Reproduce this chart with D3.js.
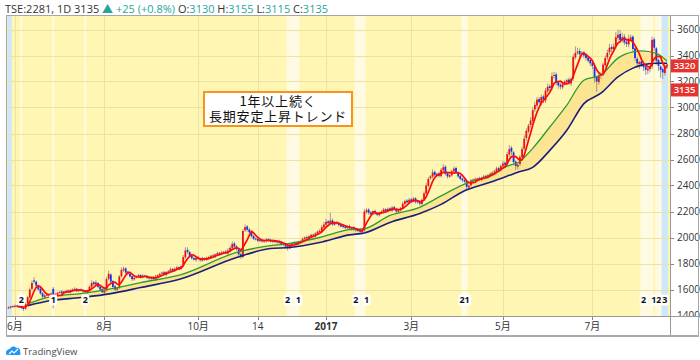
<!DOCTYPE html>
<html><head><meta charset="utf-8">
<script src="https://cdn.jsdelivr.net/npm/d3@7/dist/d3.min.js"></script>
<style>
body{margin:0;background:#fff;}
svg{display:block;font-family:"Open Sans","Noto Sans","Noto Sans CJK JP",sans-serif;}
</style>
</head><body>
<svg id="chart" width="700" height="360"></svg>
<script>
// ---- data ----
const closes=[
1462,1470,1468,1475,1472,1466,1458,1450,
1490,1540,1600,1650,
1660,
1630,1600,1570,1545,
1555,1560,1565,1570,
1480,
1565,1575,1580,1570,1585,1590,1580,1595,1600,1605,1590,1595,1590,
1585,1580,1590,
1620,1650,1640,1655,
1620,1600,1580,1590,
1680,1720,
1660,1620,1600,1610,
1700,1750,1760,
1730,1720,1700,1680,1690,
1700,1710,1695,1705,1700,1690,
1685,1690,1680,1700,1710,
1720,1730,1715,1735,1740,1755,
1745,1760,1770,1765,1780,
1850,1900,1890,
1860,1840,1830,1845,1835,1825,1840,1830,
1845,1850,1860,1855,1870,1880,1875,1885,1890,1880,1900,
1920,1950,1930,1910,
1870,1850,
2050,2080,2060,2040,2010,
1990,1985,1975,1980,1970,1975,1985,1980,1970,1975,1965,1970,1960,
1950,1945,1930,1920,
1945,1955,1960,1950,1965,1970,
1990,2000,1995,2010,2020,2015,2030,2045,2050,
2080,2100,2120,2110,2130,2100,2115,
2110,2095,2085,2080,2075,2085,2070,2075,2060,2055,2050,2045,2050,
2200,
2210,2190,2180,2200,2185,2175,
2190,2200,2215,2205,2220,2210,2230,2220,2200,2210,2225,
2260,2280,2270,2290,2280,2300,2275,
2270,2260,2290,
2340,2400,2450,2470,2500,
2480,2490,2475,2520,
2540,
2490,2470,2480,
2510,2530,2500,
2470,2450,2440,2430,
2390,2400,
2440,2445,2450,2455,2445,2460,2470,2465,2480,
2490,2500,2510,2530,2520,2550,2570,
2560,
2640,2680,2660,
2580,2550,2560,
2620,2680,2760,
2820,2860,2900,2980,
3020,3060,3040,3080,3060,
3130,3160,3150,
3240,3250,
3190,3170,3160,3180,
3200,3210,3190,3220,
3390,3420,
3430,3410,3420,3400,
3380,3360,3340,3320,
3230,3200,
3250,3260,
3330,3380,3420,
3460,3450,3470,3540,
3560,3520,3540,3500,
3490,3530,3540,
3450,3380,
3340,3350,3330,3310,
3290,3300,3310,
3520,3460,
3360,3320,
3290,3270,
3320,3330];

const opens=[
1455,1460,1472,1466,1476,1470,1466,1460,
1452,1495,1538,1605,
1670,
1660,1632,1605,1572,
1540,1560,1555,1568,
1605,
1500,1560,1578,1585,1572,1584,1592,1578,1594,1598,1606,1588,1598,
1592,1588,1578,
1592,1618,1655,1638,
1650,1622,1604,1575,
1592,1682,
1715,1665,1625,1598,
1612,1702,1748,
1762,1735,1722,1702,1678,
1692,1698,1712,1692,1706,1702,
1692,1682,1694,1678,1698,
1708,1722,1732,1712,1738,1738,
1758,1742,1758,1772,1762,
1782,1848,1905,
1888,1862,1842,1828,1848,1836,1822,1842,
1828,1846,1848,1862,1852,1868,1882,1872,1884,1892,1878,
1898,1918,1955,1932,
1908,1872,
1850,2055,2085,2062,2042,
2012,1992,1988,1972,1982,1968,1972,1988,1982,1968,1978,1962,1972,
1962,1952,1948,1932,
1918,1942,1952,1962,1948,1962,
1972,1988,2002,1992,2008,2022,2012,2028,2048,
2052,2078,2098,2124,2108,2132,2098,
2118,2112,2098,2088,2082,2072,2088,2068,2078,2062,2058,2052,2042,
2055,
2195,2215,2192,2178,2204,2188,
2172,2188,2198,2218,2202,2224,2208,2234,2222,2198,2208,
2228,2258,2284,2268,2294,2278,2302,
2278,2272,2258,
2292,2338,2398,2455,2468,
2505,2478,2494,2472,
2518,
2545,2494,2468,
2478,2508,2535,
2502,2474,2454,2442,
2432,2385,
2402,2438,2448,2446,2458,2442,2458,2474,2462,
2478,2488,2502,2508,2534,2518,2548,
2575,
2562,2638,2690,
2655,2585,2545,
2565,2618,2682,
2765,2815,2865,2895,
2985,3015,3065,3035,3085,
3055,3125,3165,
3150,3245,
3255,3195,3175,3155,
3185,3195,3215,3185,
3225,3385,
3425,3435,3405,3425,
3405,3385,3365,3345,
3315,3235,
3195,3245,
3265,3325,3385,
3425,3465,3445,3475,
3535,3565,3515,3545,
3505,3485,3525,
3545,3455,
3375,3335,3355,3325,
3315,3285,3295,
3315,3525,
3455,3365,
3315,3295,
3265,3315];

const upperWicks=[
8,5,6,10,4,6,5,8,
10,12,15,20,
24,
10,8,12,6,
8,10,6,8,
15,
10,6,8,12,5,8,10,6,8,12,6,8,10,
6,8,10,
12,20,10,15,
8,10,6,12,
15,25,
10,8,12,6,
12,20,15,
10,8,12,6,10,
8,10,6,12,8,10,
6,8,10,12,8,
10,8,12,6,10,15,
8,10,12,6,10,
15,25,20,
10,8,12,6,10,8,12,6,
8,10,6,12,8,10,6,12,8,15,20,
15,20,12,10,
8,12,
15,20,10,12,8,
8,10,6,12,8,10,12,6,8,10,6,8,10,
8,10,6,8,
10,8,12,6,10,8,
10,8,12,6,10,8,12,10,15,
15,20,25,10,60,15,10,
10,8,12,6,10,8,12,6,8,10,6,8,10,
20,
15,10,12,8,10,6,
8,10,12,6,10,8,12,10,6,8,10,
15,10,12,15,10,12,8,
10,8,12,
15,20,15,10,25,
10,8,12,15,
25,
10,8,12,
10,15,10,
8,10,6,8,
10,8,
10,8,12,6,10,8,12,10,8,
10,8,12,15,10,12,20,
10,
20,30,15,
10,8,12,
15,20,25,
20,15,25,20,
25,20,15,20,15,
20,25,15,
30,25,
15,10,12,15,
10,12,15,10,
20,50,
30,20,15,10,
12,10,15,10,
15,10,
12,10,
15,20,25,
30,20,25,40,
40,30,35,20,
25,30,20,
10,12,
15,10,12,15,
10,12,10,
25,15,
10,12,
10,15,
10,8];

const lowerWicks=[
5,8,6,4,8,6,10,15,
8,10,12,10,
15,
12,8,10,15,
10,8,6,10,
25,
8,10,6,12,8,10,6,8,12,6,10,8,6,
10,8,12,
8,10,12,6,
10,12,8,15,
8,10,
15,10,12,8,
8,10,12,
10,12,8,15,10,
8,10,12,6,8,10,
10,8,6,12,8,
8,10,6,12,8,10,
10,6,8,12,8,
10,12,15,
12,10,8,15,10,12,8,10,
10,8,12,6,10,8,12,6,10,8,12,
10,12,15,10,
12,15,
10,12,15,10,12,
10,8,12,6,10,8,12,10,8,12,6,10,8,
12,10,15,20,
8,10,6,12,8,10,
8,10,12,6,8,10,12,6,10,
10,8,12,10,15,10,8,
10,12,8,10,12,8,10,15,12,10,8,12,10,
10,
12,15,10,8,12,10,
10,8,12,6,10,8,12,10,15,8,10,
10,12,8,10,12,8,15,
10,15,12,
8,10,12,10,15,
12,10,15,10,
15,
12,15,10,
10,8,12,
12,10,15,12,
25,15,
10,12,8,10,12,8,10,12,8,
10,12,8,15,10,12,15,
20,
15,20,25,
15,30,20,
15,20,15,
20,15,20,25,
20,25,15,20,25,
20,15,25,
20,25,
20,25,20,15,
15,20,15,20,
20,15,
20,25,15,20,
20,15,20,25,
40,80,
20,25,
20,15,20,
20,25,15,20,
20,25,15,20,
25,20,15,
20,25,
30,40,20,30,
40,30,25,
20,25,
30,40,
60,50,
20,15];

// moving-average lines read at sample bars
const maIdx  =[9,20,34,48,62,81,107,123,132,146,160,167,179,193,203,214,226,235,239,246,254,262,270,278,286,293,297,304,309];
const maGreen=[1490,1545,1568,1605,1653,1715,1885,1938,1954,2000,2060,2068,2170,2232,2320,2410,2478,2555,2575,2686,2850,3018,3210,3250,3380,3427,3435,3416,3357];
const maNavy =[1476,1515,1538,1568,1615,1682,1846,1915,1923,1962,2020,2035,2116,2185,2255,2360,2425,2478,2502,2540,2670,2825,3030,3110,3235,3303,3326,3340,3340];

const xTickIdx   =[3,45,89,117,149,189,232,274];
const xTickLabels=["6月","8月","10月","14","2017","3月","5月","7月"];
const yTicks=[1400,1600,1800,2000,2200,2400,2600,2800,3000,3200,3400,3600];

const lightBands=[[6,6],[21,21],[36,36],[131,136],[163,167],[213,215],[297,302],[304,306]];
const blueBands=[[0,1],[307,309]];
const markIdx=[6,21,36,131,136,163,168,214,298,304,308];
const markText=["2","1","2","2","1","2","1","21","2","12","3"];

const priceTags=[3320,3135];
const header=[["TSE:2281, 1D 3135 ","#333"],["▲ +25 (+0.8%) ","#26a69a"],["O:","#333"],["3130 ","#26a69a"],["H:","#333"],["3155 ","#26a69a"],["L:","#333"],["3115 ","#26a69a"],["C:","#333"],["3135","#26a69a"]];
const noteLines=["1年以上続く","長期安定上昇トレンド"];

// ---- drawing ----
const N=closes.length;
const svg=d3.select("#chart");
const P={l:6.5,t:15.5,r:670.5,b:316.5};
const x=d3.scaleLinear().domain([0,N-1]).range([8.5,667]);
const bw=(x(1)-x(0));
const y=d3.scaleLinear().domain([1400,3600]).range([315.5,29.5]);

svg.append("defs").append("clipPath").attr("id","pc")
  .append("rect").attr("x",P.l).attr("y",P.t).attr("width",P.r-P.l).attr("height",P.b-P.t);

const g=svg.append("g").attr("clip-path","url(#pc)");
g.append("rect").attr("x",P.l).attr("y",P.t).attr("width",P.r-P.l).attr("height",P.b-P.t).attr("fill","#fff6b4");
g.selectAll(".lb").data(lightBands).join("rect")
  .attr("x",d=>x(d[0])-bw/2).attr("width",d=>x(d[1])-x(d[0])+bw)
  .attr("y",P.t).attr("height",P.b-P.t).attr("fill","#fffbe2");
g.selectAll(".bb").data(blueBands).join("rect")
  .attr("x",d=>x(d[0])-bw/2).attr("width",d=>x(d[1])-x(d[0])+bw)
  .attr("y",P.t).attr("height",P.b-P.t).attr("fill","#cfe7fa");

// grid
g.selectAll(".hg").data(yTicks).join("line")
  .attr("x1",P.l).attr("x2",P.r).attr("y1",d=>Math.round(y(d))+0.5).attr("y2",d=>Math.round(y(d))+0.5)
  .attr("stroke","#ece2a6").attr("stroke-width",1);
g.selectAll(".vg").data(xTickIdx).join("line")
  .attr("y1",P.t).attr("y2",P.b).attr("x1",d=>Math.round(x(d))+0.5).attr("x2",d=>Math.round(x(d))+0.5)
  .attr("stroke","#ece2a6").attr("stroke-width",1);

// MA band fill
const maPts=maIdx.map((i,k)=>({i,gr:maGreen[k],nv:maNavy[k]}));
g.append("path").datum(maPts)
  .attr("d",d3.area().curve(d3.curveMonotoneX).x(d=>x(d.i)).y0(d=>y(d.nv)).y1(d=>y(d.gr)))
  .attr("fill","#fbe28c").attr("opacity",0.85);

// candles
const cd=closes.map((c,i)=>{const o=opens[i];return {i,o,c,h:Math.max(o,c)+upperWicks[i],l:Math.min(o,c)-lowerWicks[i]};});
g.selectAll(".wk").data(cd).join("line")
  .attr("x1",d=>x(d.i)).attr("x2",d=>x(d.i)).attr("y1",d=>y(d.h)).attr("y2",d=>y(d.l))
  .attr("stroke","#8f8f8f").attr("stroke-width",0.9);
g.selectAll(".bd").data(cd).join("rect")
  .attr("x",d=>x(d.i)-0.9).attr("width",1.8)
  .attr("y",d=>y(Math.max(d.o,d.c))).attr("height",d=>Math.max(1,Math.abs(y(d.o)-y(d.c))))
  .attr("fill",d=>d.c>=d.o?"#f01010":"#1530f0");

// MA lines
const lineMA=d3.line().curve(d3.curveMonotoneX).x(d=>x(d.i));
g.append("path").datum(maPts).attr("d",lineMA.y(d=>y(d.nv))).attr("fill","none").attr("stroke","#1c1f7a").attr("stroke-width",1.6);
g.append("path").datum(maPts).attr("d",lineMA.y(d=>y(d.gr))).attr("fill","none").attr("stroke","#2f9a2f").attr("stroke-width",1.3);
const red=d3.range(4,N).map(i=>({i,v:d3.mean(closes.slice(i-4,i+1))}));
g.append("path").datum(red).attr("d",d3.line().x(d=>x(d.i)).y(d=>y(d.v))).attr("fill","none").attr("stroke","#ff0a0a").attr("stroke-width",1.7);

// event markers
const mk=g.selectAll(".mk").data(markIdx.map((i,k)=>({i,t:markText[k]}))).join("g")
  .attr("transform",d=>`translate(${x(d.i)},300)`);
mk.append("rect").attr("x",d=>-(d.t.length*5+3)/2).attr("y",-5.5).attr("width",d=>d.t.length*5+3).attr("height",11).attr("rx",2).attr("fill","#fff");
mk.append("text").attr("text-anchor","middle").attr("dy","0.35em").attr("font-size",9).attr("font-weight","bold").attr("fill","#111").text(d=>d.t);

// annotation (one text block, two lines)
const ann=svg.append("g");
ann.append("rect").attr("x",204).attr("y",92).attr("width",148).attr("height",34).attr("fill","#fff").attr("stroke","#f7931e").attr("stroke-width",2);
const at=ann.append("text").attr("text-anchor","middle")
  .attr("font-family","'Noto Sans CJK JP',sans-serif").attr("font-size",13).attr("letter-spacing",0.8).attr("fill","#111");
at.selectAll("tspan").data(noteLines).join("tspan")
  .attr("x",278).attr("y",(d,k)=>106+k*15).text(d=>d);

// right axis
const ya=svg.append("g");
ya.selectAll("text").data(yTicks).join("text")
  .attr("x",677).attr("y",d=>y(d)).attr("dy","0.35em").attr("font-size",10).attr("fill","#333").text(d=>d);
ya.selectAll("line").data(yTicks).join("line")
  .attr("x1",670.5).attr("x2",674).attr("y1",d=>Math.round(y(d))+0.5).attr("y2",d=>Math.round(y(d))+0.5).attr("stroke","#888");
svg.append("rect").attr("x",671).attr("y",317).attr("width",28).attr("height",18).attr("fill","#fff");

// price tags
const pt=svg.selectAll(".pt").data(priceTags).join("g").attr("transform",d=>`translate(670.5,${y(d)})`);
pt.append("rect").attr("x",0).attr("y",-6.5).attr("width",28).attr("height",13).attr("fill","#e8322e");
pt.append("text").attr("x",14).attr("text-anchor","middle").attr("dy","0.35em").attr("font-size",9.5).attr("font-weight",600).attr("fill","#fff").text(d=>d);

// bottom axis
const xa=svg.append("g");
xa.selectAll("text").data(xTickIdx).join("text")
  .attr("x",d=>x(d)).attr("y",330).attr("text-anchor","middle").attr("font-size",10)
  .attr("font-weight",(d,k)=>xTickLabels[k]==="2017"?"bold":"normal")
  .attr("fill","#333").text((d,k)=>xTickLabels[k]);
xa.selectAll("line").data(xTickIdx).join("line")
  .attr("x1",d=>Math.round(x(d))+0.5).attr("x2",d=>Math.round(x(d))+0.5).attr("y1",316.5).attr("y2",320).attr("stroke","#888");

// frame
svg.append("rect").attr("x",6.5).attr("y",15.5).attr("width",692).attr("height",320).attr("fill","none").attr("stroke","#a6a6a6");
svg.append("line").attr("x1",6.5).attr("x2",698.5).attr("y1",316.5).attr("y2",316.5).attr("stroke","#999");
svg.append("line").attr("x1",670.5).attr("x2",670.5).attr("y1",15.5).attr("y2",335.5).attr("stroke","#999");
svg.append("line").attr("x1",6).attr("x2",699).attr("y1",336).attr("y2",336).attr("stroke","#aaa").attr("stroke-width",2);

// header
const ht=svg.append("text").attr("x",5).attr("y",13).attr("font-size",11);
ht.selectAll("tspan").data(header).join("tspan").attr("fill",d=>d[1]).text(d=>d[0]);

// TradingView logo
const lg=svg.append("g").attr("transform","translate(6,346)");
lg.append("path").attr("d","M0,7 C0,4 2,3 4,3 C5,0 9,0 10,2 C12,1 15,3 14,6 C15,7 15,9 13,9 L2,9 C0,9 0,8 0,7 Z").attr("fill","#2196f3");
lg.append("path").attr("d","M3,8 L6,5 L8,7 L12,3").attr("fill","none").attr("stroke","#fff").attr("stroke-width",1.2);
svg.append("text").attr("x",23).attr("y",355).attr("font-size",9.5).attr("fill","#4a4a4a").text("TradingView");
</script>
</body></html>
